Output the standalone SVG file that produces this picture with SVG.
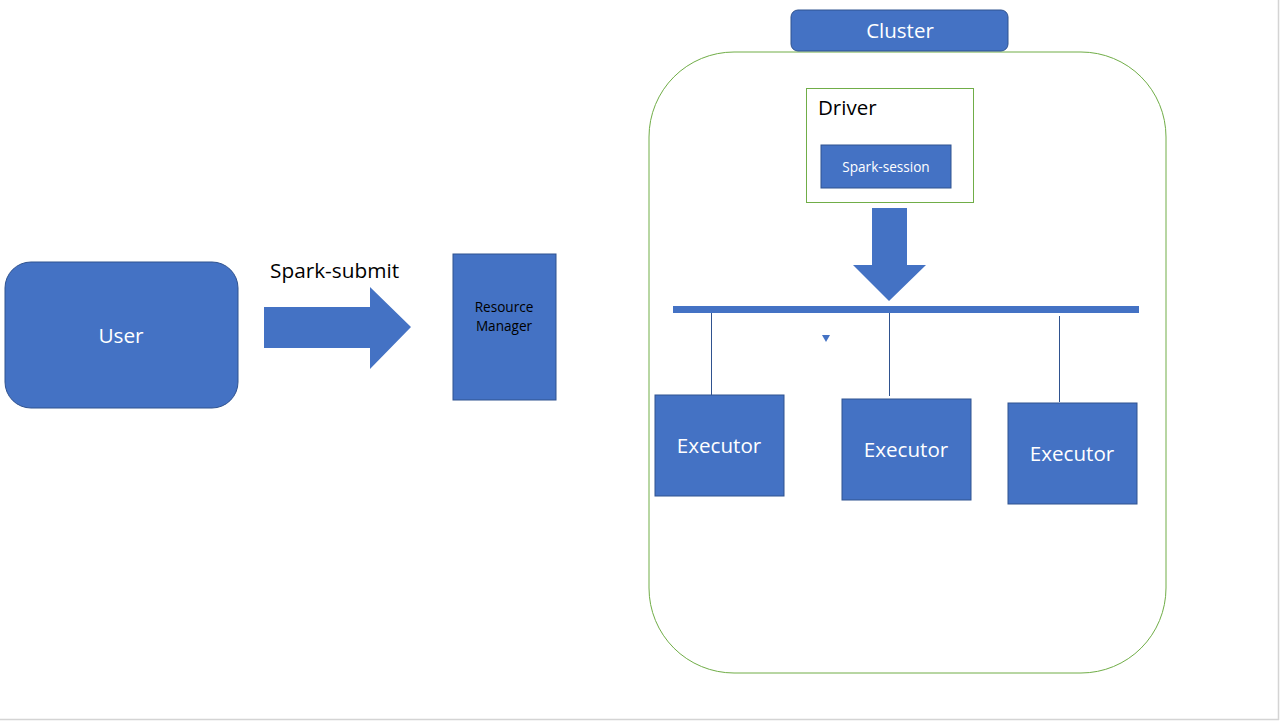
<svg xmlns="http://www.w3.org/2000/svg" width="1281" height="722" viewBox="0 0 1281 722">
<style>
.blue{fill:#4472C4;stroke:#2F528F;stroke-width:1}
.wt{fill:#fff;font-family:"Open Sans","Liberation Sans",sans-serif;text-anchor:middle}
.bk{fill:#000;font-family:"Open Sans","Liberation Sans",sans-serif}
.ln{stroke:#2F528F;stroke-width:1;fill:none}
</style>
<rect x="0" y="0" width="1281" height="722" fill="#fff"/>
<line x1="1278.5" y1="0" x2="1278.5" y2="720" stroke="#d4d4d4" stroke-width="1.5"/>
<line x1="0" y1="719.5" x2="1279" y2="719.5" stroke="#d4d4d4" stroke-width="1.5"/>
<g id="cluster">
<rect x="649" y="52" width="517" height="621" rx="85" ry="85" fill="none" stroke="#70AD47" stroke-width="1"/>
</g>
<g id="cluster-label">
<rect x="791" y="10" width="217" height="41" rx="7" class="blue"/>
<text x="900" y="38" class="wt" font-size="20.5">Cluster</text>
</g>
<g id="driver">
<rect x="806.5" y="88.5" width="167" height="114" fill="#fff" stroke="#70AD47" stroke-width="1"/>
<text x="818" y="115" class="bk" font-size="20.5">Driver</text>
</g>
<g id="spark-session">
<rect x="821" y="145" width="130" height="43" class="blue"/>
<text x="886" y="172" class="wt" font-size="13.6">Spark-session</text>
</g>
<g id="user">
<rect x="5" y="262" width="233" height="146" rx="26" ry="26" class="blue"/>
<text x="121" y="343" class="wt" font-size="20.8">User</text>
</g>
<g id="resource-manager">
<rect x="453" y="254" width="103" height="146" class="blue"/>
<text x="504" y="312" font-size="13.6" class="bk" text-anchor="middle">Resource</text>
<text x="504" y="331" font-size="13.6" class="bk" text-anchor="middle">Manager</text>
</g>
<g id="bus">
<rect x="673" y="306" width="466" height="7" fill="#4472C4"/>
</g>
<g id="executor1">
<rect x="655" y="395" width="129" height="101" class="blue"/>
<text x="719" y="453" class="wt" font-size="20.6">Executor</text>
</g>
<g id="executor2">
<rect x="842" y="399" width="129" height="101" class="blue"/>
<text x="906" y="457" class="wt" font-size="20.6">Executor</text>
</g>
<g id="executor3">
<rect x="1008" y="403" width="129" height="101" class="blue"/>
<text x="1072" y="461" class="wt" font-size="20.6">Executor</text>
</g>
<g id="connectors">
<polygon points="264,307 370,307 370,287 411,327 370,369 370,348 264,348" fill="#4472C4"/>
<text x="270" y="278" class="bk" font-size="20.8">Spark-submit</text>
<polygon points="872,208 907,208 907,265 926,265 889,301 853,265 872,265" fill="#4472C4"/>
<line x1="711.5" y1="313" x2="711.5" y2="395" class="ln"/>
<line x1="889.5" y1="313" x2="889.5" y2="396" class="ln"/>
<line x1="1059.5" y1="316" x2="1059.5" y2="402" class="ln"/>
<polygon points="822,335 830,335 826,342" fill="#4472C4"/>
</g>
</svg>
